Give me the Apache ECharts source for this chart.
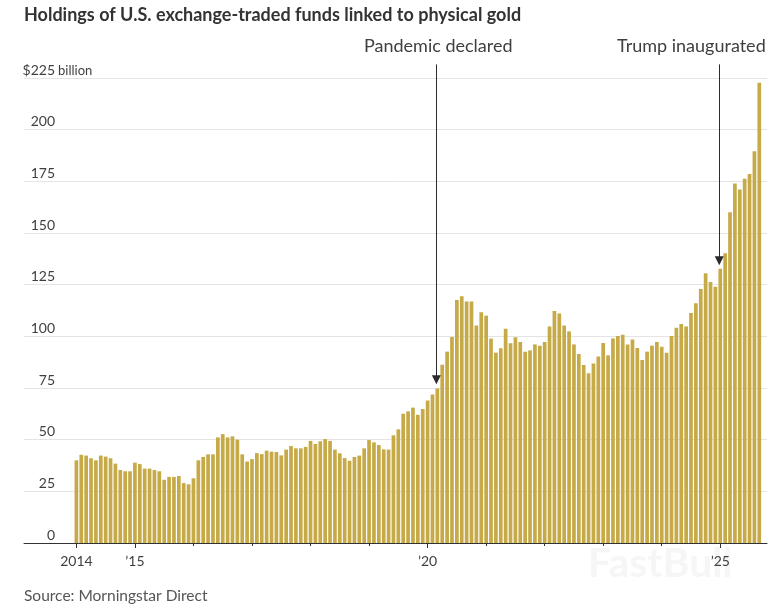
<!DOCTYPE html>
<html>
<head>
<meta charset="utf-8">
<title>Holdings of U.S. exchange-traded funds linked to physical gold</title>
<script src="https://cdn.jsdelivr.net/npm/echarts@6/dist/echarts.min.js"></script>
<style>
  html, body { margin: 0; padding: 0; background: #fff; }
  #main { width: 774px; height: 606px; }
</style>
</head>
<body>
<div id="main"></div>
<script>
// monthly holdings, $ billion, Jan 2014 - Sep 2025
var holdings = [
  40, 42.7, 42.3, 41, 40, 42.3, 41.8, 41, 38.4, 35.3, 34.7, 34.7,
  38.9, 38.2, 36, 36, 35.3, 34.7, 30.6, 32, 32, 32.4, 29, 28.4,
  31.3, 40, 41.6, 42.9, 42.9, 51.1, 52.7, 51.1, 51.6, 50, 42.9, 39.4,
  40.6, 43.5, 43, 44.7, 44.2, 44, 42.4, 45.2, 46.9, 45.8, 45.8, 46.5,
  49.4, 47.9, 49.2, 50.3, 49.4, 45.2, 43.4, 41.1, 39.8, 41.6, 42.3, 45.8,
  49.8, 48.7, 47.4, 45.3, 45.2, 52.1, 55, 62.6, 63.7, 65.5, 62, 64.8,
  68.9, 71.8, 74.8, 86.3, 92.6, 99.7, 117.6, 119.4, 116.9, 116.9, 105.3, 111.6,
  110, 98.9, 92.1, 94.2, 103.7, 96.6, 99.5, 97.3, 92.6, 93.2, 96.1, 95.5,
  97.3, 104.8, 112.3, 111.1, 105.3, 102.4, 96.1, 91.5, 86.1, 82.1, 86.8, 90.3,
  96.8, 90.8, 99, 100.2, 100.8, 96.1, 98.5, 94.4, 88.5, 92.6, 95.5, 97.3,
  95, 92.1, 100.2, 104.2, 106, 104.8, 111.3, 116, 122.9, 130.5, 126.3, 124,
  132.7, 140.2, 160, 174, 171.1, 176.3, 178.5, 189.5, 222.7
];
// month index of each January, and the ones that carry a label
var yearTicks = [0, 12, 24, 36, 48, 60, 72, 84, 96, 108, 120, 132];
var labelTicks = [0, 12, 72, 132];
var labelText = { 0: '2014', 12: '’15', 72: '’20', 132: '’25' };
var pandemicMonth = 74;
var trumpMonth = 132;

var font = 'Lato, "Noto Sans", sans-serif';
var inkColor = '#3f3f3f';
var xMin = -10.74;
var xMax = 141.58;

var myChart = echarts.init(document.getElementById('main'));

var option = {
  animation: false,
  backgroundColor: '#fff',
  grid: [
    { left: 24, right: 7, top: 78, bottom: 63 },
    // same scale as the first grid, taller so the arrows can start above $225
    { left: 23, right: 8, top: 64, bottom: 63 }
  ],
  xAxis: [
    {
      type: 'value',
      min: xMin,
      max: xMax,
      splitLine: { show: false },
      axisLine: { show: true, onZero: false, lineStyle: { color: '#333', width: 1 } },
      axisTick: { show: true, customValues: yearTicks, length: 3, lineStyle: { color: '#333' } },
      axisLabel: {
        show: true,
        customValues: labelTicks,
        margin: 11,
        fontFamily: font,
        fontSize: 14,
        color: inkColor,
        formatter: function (v) { return labelText[v] || ''; }
      }
    },
    {
      // taller ticks under the labelled years
      type: 'value',
      position: 'bottom',
      min: xMin,
      max: xMax,
      splitLine: { show: false },
      axisLine: { show: false },
      axisLabel: { show: false },
      axisTick: { show: true, customValues: labelTicks, length: 5, lineStyle: { color: '#333' } }
    },
    { type: 'value', gridIndex: 1, min: xMin, max: xMax, show: false }
  ],
  yAxis: [
    {
      type: 'value',
      min: 0,
      max: 225,
      interval: 25,
      axisLine: { show: false },
      axisTick: { show: false },
      splitLine: { lineStyle: { color: '#e4e4e4', width: 1 } },
      axisLabel: {
        margin: -31,
        align: 'right',
        verticalAlign: 'bottom',
        padding: [0, 0, 1, 0],
        fontFamily: font,
        fontSize: 14,
        color: inkColor,
        formatter: function (v) { return v === 225 ? '$225' : String(v); }
      }
    },
    { type: 'value', gridIndex: 1, min: 0, max: 231.7, show: false }
  ],
  series: [
    {
      type: 'bar',
      barWidth: 3.7,
      itemStyle: { color: '#c6aa48' },
      data: holdings.map(function (v, i) { return [i, v]; })
    },
    {
      type: 'line',
      xAxisIndex: 2,
      yAxisIndex: 1,
      data: [],
      z: 5,
      markLine: {
        silent: true,
        symbol: ['none', 'triangle'],
        symbolSize: [9, 9],
        label: { show: false },
        lineStyle: { color: '#2b2b2b', width: 1, type: 'solid' },
        data: [
          [{ coord: [pandemicMonth, 231.5] }, { coord: [pandemicMonth, 79] }],
          [{ coord: [trumpMonth, 231.5] }, { coord: [trumpMonth, 136.5] }]
        ]
      }
    }
  ],
  graphic: [
    {
      type: 'text', left: 24, top: 6,
      style: { text: 'Holdings of U.S. exchange-traded funds linked to physical gold', fill: '#333', font: 'bold 18px ' + font }
    },
    {
      type: 'text', left: 58, top: 64,
      style: { text: 'billion', fill: inkColor, font: '13px ' + font }
    },
    {
      type: 'text', left: 364, top: 37,
      style: { text: 'Pandemic declared', fill: inkColor, font: '18px ' + font }
    },
    {
      type: 'text', left: 617, top: 37,
      style: { text: 'Trump inaugurated', fill: inkColor, font: '18px ' + font }
    },
    {
      type: 'text', left: 24, top: 588,
      style: { text: 'Source: Morningstar Direct', fill: '#555', font: '15.5px ' + font }
    },
    {
      type: 'text', left: 588, top: 543,
      style: { text: 'FastBull', fill: '#f6f6f6', font: 'bold 41px ' + font }
    }
  ]
};

myChart.setOption(option);
</script>
</body>
</html>
